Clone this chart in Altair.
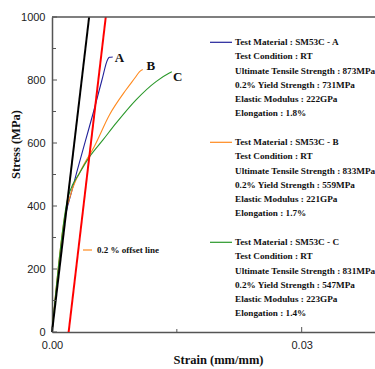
import altair as alt
import pandas as pd

# ---- data ----
strain_A = [0.0, 0.0017, 0.0023, 0.0030, 0.0040, 0.0050, 0.0060, 0.0067, 0.0069, 0.0073]
stress_A = [0, 380, 440, 510, 605, 700, 800, 866, 872, 873]

strain_B = [0.0, 0.0018, 0.0020, 0.0025, 0.0037, 0.0051, 0.0069, 0.0089, 0.0100, 0.0105, 0.0109]
stress_B = [0, 400, 415, 458, 525, 590, 689, 769, 808, 826, 833]

strain_C = [0.0, 0.0019, 0.0022, 0.0033, 0.0045, 0.0061, 0.0077, 0.0101, 0.0125, 0.0141, 0.0144]
stress_C = [0, 425, 450, 504, 556, 609, 663, 737, 795, 822, 826]

elastic_strain = [0.0, 0.00446]
elastic_stress = [0, 1000]
offset_strain = [0.0020, 0.00646]
offset_stress = [0, 1000]

curve_names = ["A", "B", "C"]
curve_colors = ["#22229a", "#ff8a1f", "#2a982a"]
label_strain = [0.00753, 0.01134, 0.01454]
label_stress = [869, 843, 811]

x_major = [0.0, 0.03]
x_minor = [0.015]
y_major = [0, 200, 400, 600, 800, 1000]
y_minor = [100, 300, 500, 700, 900]

legend_A = ["Test Material : SM53C - A", "Test Condition : RT",
            "Ultimate Tensile Strength : 873MPa", "0.2% Yield Strength : 731MPa",
            "Elastic Modulus :  222GPa", "Elongation : 1.8%"]
legend_B = ["Test Material : SM53C - B", "Test Condition : RT",
            "Ultimate Tensile Strength : 833MPa", "0.2% Yield Strength : 559MPa",
            "Elastic Modulus :  221GPa", "Elongation : 1.7%"]
legend_C = ["Test Material : SM53C - C", "Test Condition : RT",
            "Ultimate Tensile Strength : 831MPa", "0.2% Yield Strength : 547MPa",
            "Elastic Modulus :  223GPa", "Elongation : 1.4%"]
offset_note = "0.2 % offset line"

# ---- layout constants ----
W, H = 323, 315
SERIF = "Liberation Serif"
SANS = "Liberation Sans"
AXIS_COLOR = "#555555"

xscale = alt.Scale(domain=[0, 0.03881], nice=False, zero=False)
yscale = alt.Scale(domain=[0, 1000], nice=False)

xaxis = alt.Axis(values=x_major, format=".2f", ticks=False, tickSize=0, grid=False,
                 labelFlush=False, labelPadding=7, labelFont=SANS, labelFontSize=11,
                 labelColor="#222", domainColor=AXIS_COLOR, domainWidth=1.5,
                 titleFont=SERIF, titleFontWeight="bold", titleFontSize=12.5,
                 titleColor="#111", titleX=166, titleY=31, titleAlign="center",
                 titleBaseline="alphabetic")
yaxis = alt.Axis(values=y_major, format="d", ticks=False, tickSize=0, grid=False,
                 labelFlush=False, labelPadding=7, labelFont=SANS, labelFontSize=11,
                 labelColor="#222", domainColor=AXIS_COLOR, domainWidth=1.5,
                 titleFont=SERIF, titleFontWeight="bold", titleFontSize=12.5,
                 titleColor="#111", titleX=-37, titleY=127, titleAlign="center",
                 titleBaseline="middle", titleAngle=-90)


def X(field="strain"):
    return alt.X(f"{field}:Q", scale=xscale, axis=xaxis, title="Strain (mm/mm)")


def Y(field="stress"):
    return alt.Y(f"{field}:Q", scale=yscale, axis=yaxis, title="Stress (MPa)")


rows = []
for name, xs, ys in [("A", strain_A, stress_A), ("B", strain_B, stress_B), ("C", strain_C, stress_C)]:
    for i, (a, b) in enumerate(zip(xs, ys)):
        rows.append({"sample": name, "strain": a, "stress": b, "i": i})
curves_df = pd.DataFrame(rows)

color = alt.Color("sample:N", scale=alt.Scale(domain=curve_names, range=curve_colors), legend=None)

curves = alt.Chart(curves_df).mark_line(strokeWidth=1.1, interpolate="monotone").encode(
    x=X(), y=Y(), color=color, order="i:Q")

elastic = alt.Chart(pd.DataFrame({"strain": elastic_strain, "stress": elastic_stress})).mark_line(
    color="black", strokeWidth=2).encode(x=X(), y=Y())
offset = alt.Chart(pd.DataFrame({"strain": offset_strain, "stress": offset_stress})).mark_line(
    color="#ff0000", strokeWidth=2).encode(x=X(), y=Y())

letters = alt.Chart(pd.DataFrame({"strain": label_strain, "stress": label_stress, "t": curve_names})).mark_text(
    align="left", baseline="middle", font=SERIF, fontWeight="bold", fontSize=13, color="#111").encode(
    x=X(), y=Y(), text="t:N")

# top frame line
top = alt.Chart(pd.DataFrame({"stress": [1000]})).mark_rule(color=AXIS_COLOR, strokeWidth=1.5).encode(
    y=Y(), x=alt.value(0), x2=alt.value(W + 5))

# inward ticks
ytk_major = alt.Chart(pd.DataFrame({"stress": y_major})).mark_rule(color=AXIS_COLOR, strokeWidth=1).encode(
    y=Y(), x=alt.value(0), x2=alt.value(5))
ytk_minor = alt.Chart(pd.DataFrame({"stress": y_minor})).mark_rule(color=AXIS_COLOR, strokeWidth=1).encode(
    y=Y(), x=alt.value(0), x2=alt.value(4))
xtk_major = alt.Chart(pd.DataFrame({"strain": x_major})).mark_rule(color=AXIS_COLOR, strokeWidth=1).encode(
    x=X(), y=alt.value(H), y2=alt.value(H - 5))
xtk_minor = alt.Chart(pd.DataFrame({"strain": x_minor})).mark_rule(color=AXIS_COLOR, strokeWidth=1).encode(
    x=X(), y=alt.value(H), y2=alt.value(H - 3))

one = pd.DataFrame({"k": [0]})
legend_layers = []
for lines, col, top_y in [(legend_A, curve_colors[0], 25.3), (legend_B, curve_colors[1], 125.3),
                          (legend_C, curve_colors[2], 225.3)]:
    legend_layers.append(alt.Chart(one).mark_rule(color=col, strokeWidth=1.2).encode(
        x=alt.value(158), x2=alt.value(180), y=alt.value(top_y)))
    legend_layers.append(alt.Chart(one).mark_text(
        align="left", baseline="alphabetic", font=SERIF, fontWeight="bold", fontSize=9.2,
        lineHeight=14.2, color="#111").encode(
        x=alt.value(183), y=alt.value(top_y + 3), text=alt.value(lines)))

note_line = alt.Chart(one).mark_rule(color=curve_colors[1], strokeWidth=1.2).encode(
    x=alt.value(31), x2=alt.value(40), y=alt.value(233))
note_text = alt.Chart(one).mark_text(
    align="left", baseline="middle", font=SERIF, fontWeight="bold", fontSize=9, color="#111").encode(
    x=alt.value(45), y=alt.value(233), text=alt.value(offset_note))

chart = alt.layer(
    curves, elastic, offset, letters, top, ytk_major, ytk_minor, xtk_major, xtk_minor,
    *legend_layers, note_line, note_text
).properties(
    width=W, height=H,
    padding={"left": 52, "top": 17, "right": 0, "bottom": 37},
    autosize=alt.AutoSizeParams(type="none"),
    background="white",
).configure_view(stroke=None)

chart.save("out.html", embed_options={"renderer": "svg", "actions": False})
